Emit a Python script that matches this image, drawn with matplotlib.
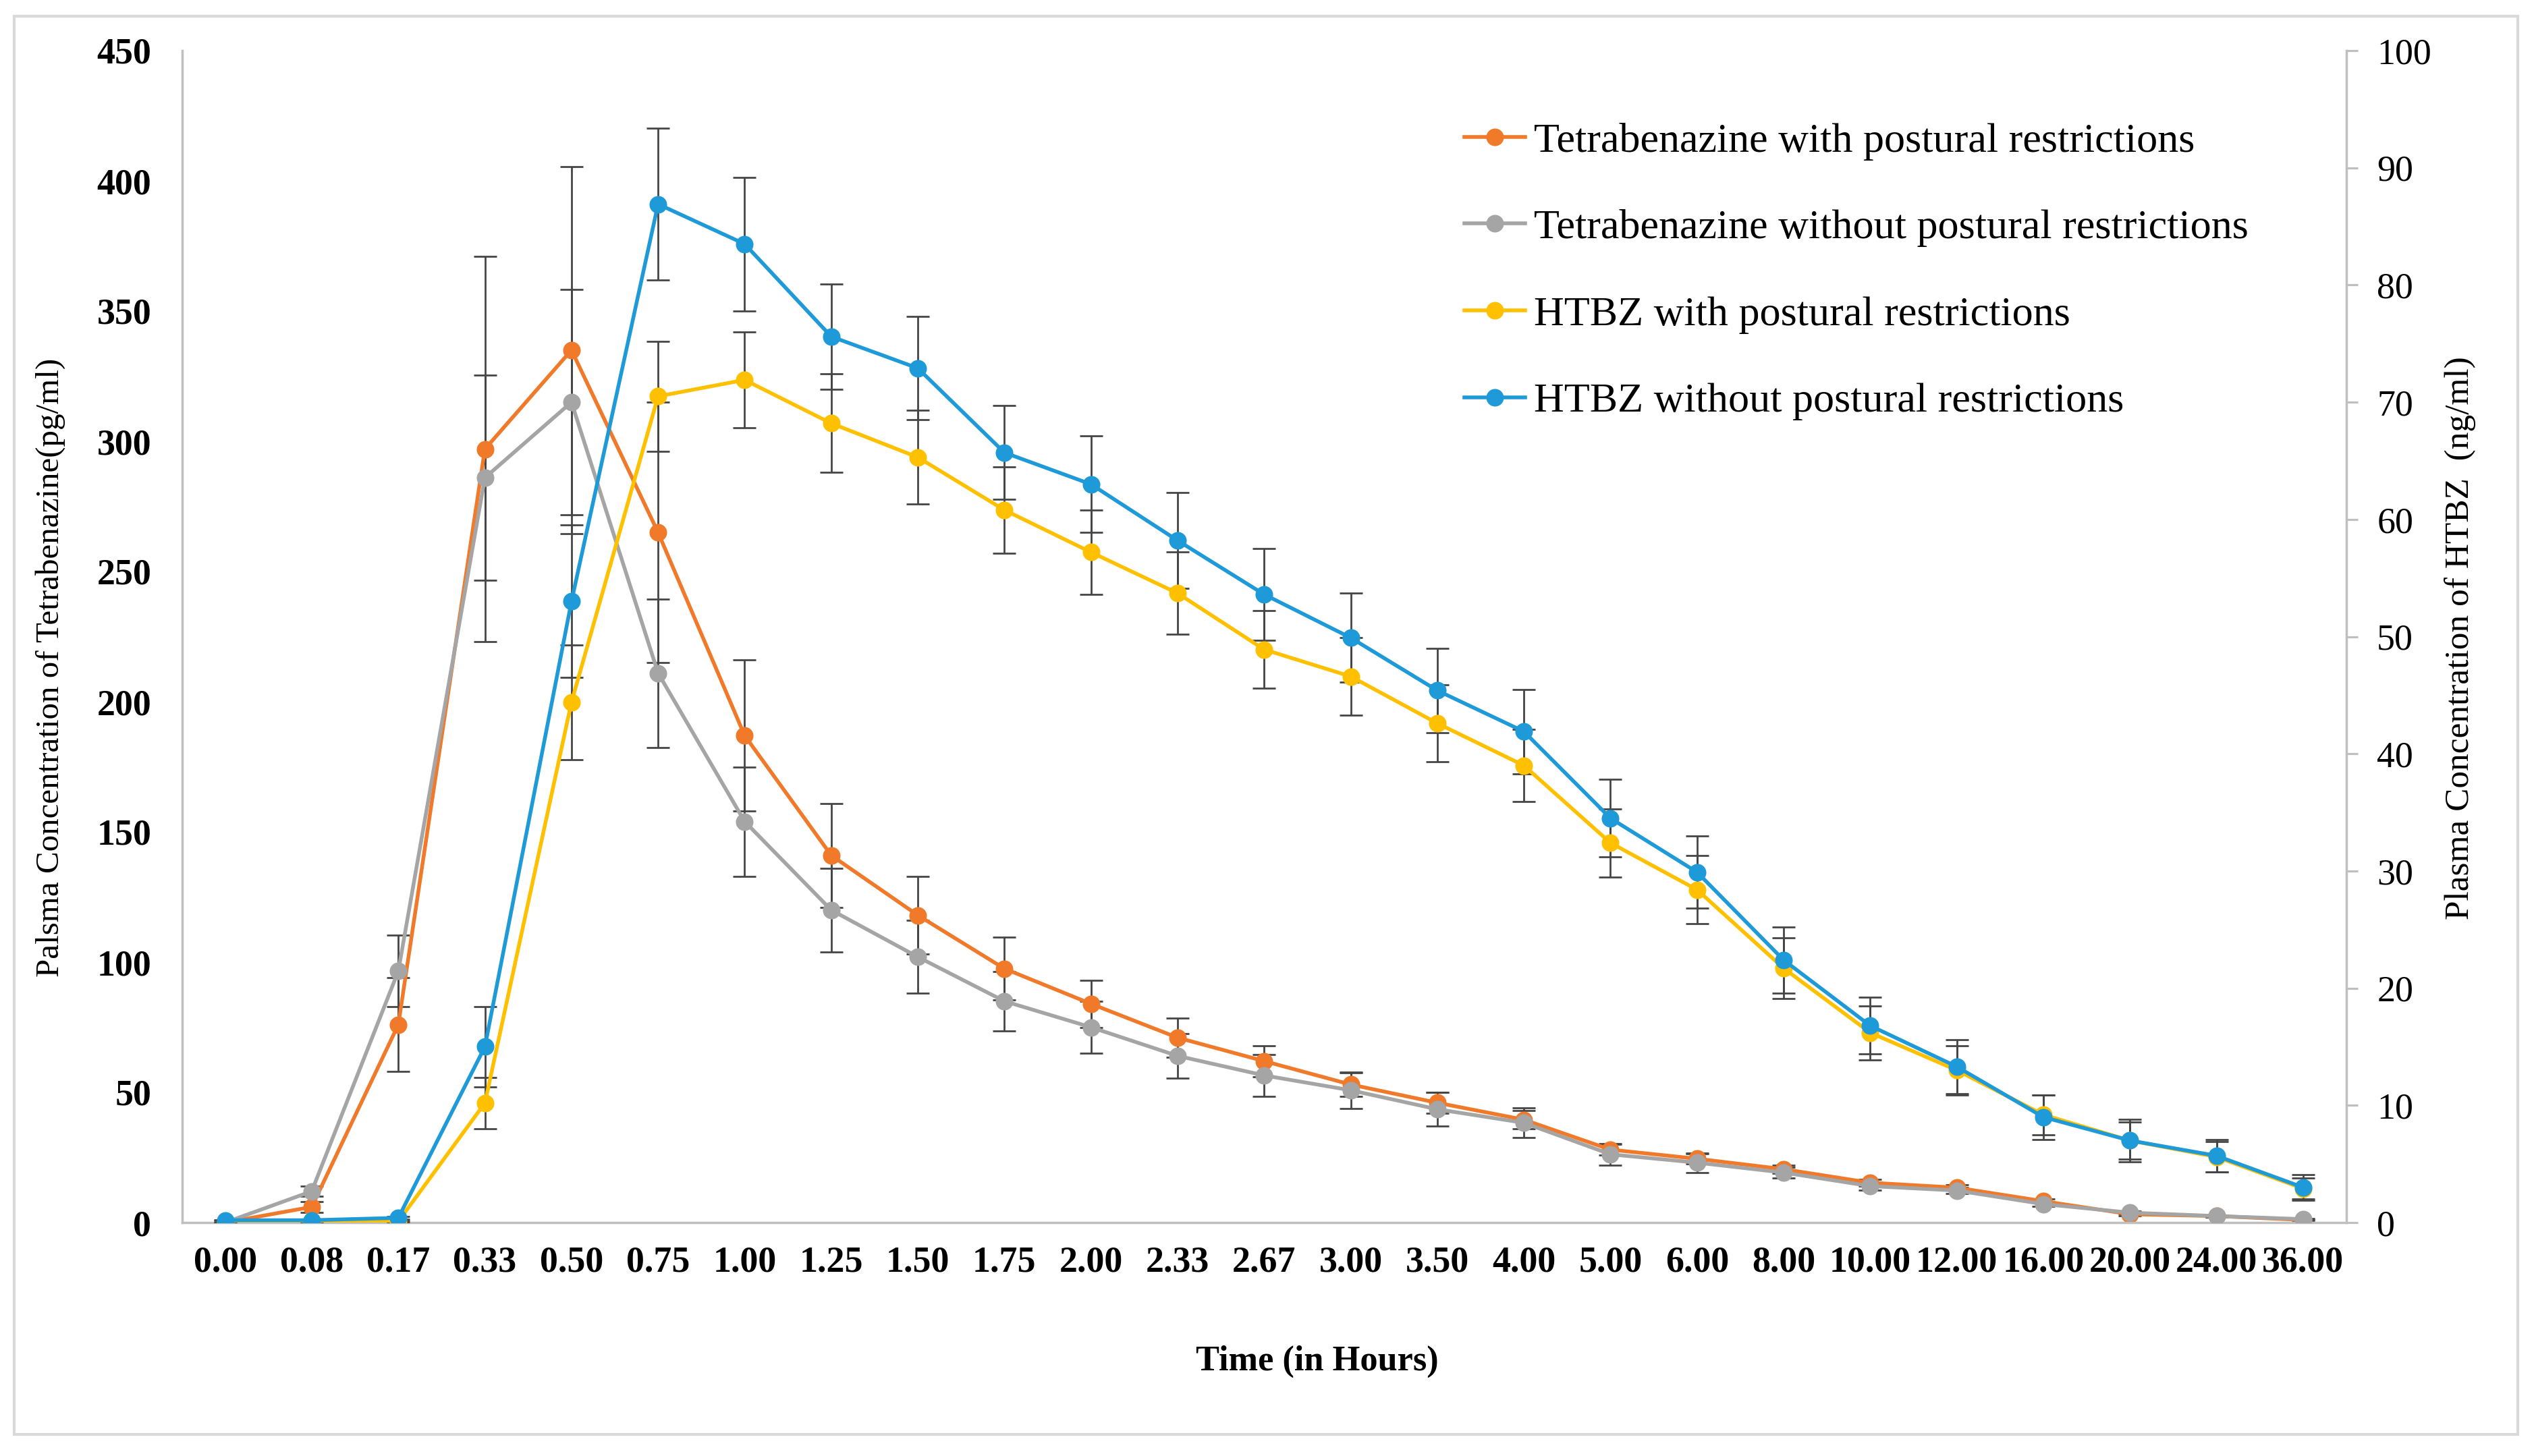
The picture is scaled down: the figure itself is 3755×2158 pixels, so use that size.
import matplotlib.pyplot as plt
from matplotlib.patches import Rectangle
import numpy as np

plt.rcParams['font.family'] = ['Liberation Serif', 'DejaVu Serif']

times = ['0.00', '0.08', '0.17', '0.33', '0.50', '0.75', '1.00', '1.25', '1.50', '1.75',
         '2.00', '2.33', '2.67', '3.00', '3.50', '4.00', '5.00', '6.00', '8.00', '10.00',
         '12.00', '16.00', '20.00', '24.00', '36.00']

# tetrabenazine, pg/ml (left axis)
tbz_with = [0, 6, 76, 297, 335, 265, 187, 141, 118, 97.5, 84, 71, 62, 53, 46, 39.5,
            28, 24.5, 20.5, 15.3, 13.4, 8.2, 3.2, 2.5, 1.0]
tbz_with_sd = [0, 2, 18, 74, 70.5, 50, 29, 20, 15, 12, 9, 7.5, 6, 4.5, 4, 3.6,
               2, 2, 1.5, 1.2, 1, 0.8, 0.5, 0.4, 0.2]
tbz_without = [0, 12, 96.6, 286, 315, 211, 154, 120, 102, 85, 75, 64, 56.5, 50.8, 43.5, 38.3,
               26.2, 23, 19.2, 14, 12.3, 7.1, 3.8, 2.5, 1.3]
tbz_without_sd = [0, 2, 13.8, 39.3, 43.2, 28.5, 21, 16, 14, 11.4, 10, 8.6, 8, 7, 6.5, 5.7,
                  4.2, 3.8, 2, 1.5, 1.2, 1, 0.5, 0.4, 0.3]

# HTBZ, ng/ml (right axis)
htbz_with = [0, 0.05, 0.1, 10.2, 44.4, 70.5, 71.9, 68.2, 65.3, 60.8, 57.2, 53.7, 48.9, 46.6,
             42.6, 39.0, 32.4, 28.4, 21.7, 16.2, 13.0, 9.2, 7.0, 5.6, 2.9]
htbz_with_sd = [0, 0, 0.05, 2.2, 4.9, 4.7, 4.1, 4.2, 4.0, 3.7, 3.6, 3.5, 3.3, 3.3,
                3.3, 3.1, 2.9, 2.9, 2.6, 2.3, 2.1, 1.7, 1.6, 1.3, 0.9]
htbz_without = [0.2, 0.2, 0.4, 15.0, 53.0, 86.9, 83.5, 75.6, 72.9, 65.7, 63.0, 58.2, 53.6, 49.9,
                45.4, 41.9, 34.5, 29.9, 22.4, 16.8, 13.3, 9.0, 7.0, 5.7, 3.0]
htbz_without_sd = [0.05, 0.05, 0.1, 3.4, 6.5, 6.5, 5.7, 4.5, 4.4, 4.0, 4.1, 4.1, 3.9, 3.8,
                   3.6, 3.6, 3.3, 3.1, 2.8, 2.4, 2.3, 1.9, 1.8, 1.4, 1.1]

labels = ['Tetrabenazine with postural restrictions',
          'Tetrabenazine without postural restrictions',
          'HTBZ with postural restrictions',
          'HTBZ without postural restrictions']
colors = ['#F07A2A', '#A5A5A5', '#FFC000', '#1E9AD8']

W, H = 3755, 2158
fig = plt.figure(figsize=(W / 250, H / 250), dpi=250)
fig.patches.append(Rectangle((21 / W, 1 - 2126 / H), 3710 / W, 2102 / H,
                             transform=fig.transFigure, fill=False,
                             edgecolor='#D9D9D9', lw=1.2))

ax = fig.add_axes([269.5 / W, 1 - 1812 / H, (3477 - 269.5) / W, (1812 - 75) / H])
ax2 = ax.twinx()

x = np.arange(len(times))
err_kw = dict(fmt='none', ecolor='#454545', elinewidth=0.8, capsize=5, capthick=0.8)
line_kw = dict(marker='o', markersize=6.5, lw=1.6)

ax.errorbar(x, tbz_with, yerr=tbz_with_sd, zorder=1, **err_kw)
ax.errorbar(x, tbz_without, yerr=tbz_without_sd, zorder=1, **err_kw)
l1, = ax.plot(x, tbz_with, color=colors[0], label=labels[0], zorder=2, **line_kw)
l2, = ax.plot(x, tbz_without, color=colors[1], label=labels[1], zorder=3, **line_kw)

ax2.errorbar(x, htbz_with, yerr=htbz_with_sd, zorder=1, **err_kw)
ax2.errorbar(x, htbz_without, yerr=htbz_without_sd, zorder=1, **err_kw)
l3, = ax2.plot(x, htbz_with, color=colors[2], label=labels[2], zorder=2, **line_kw)
l4, = ax2.plot(x, htbz_without, color=colors[3], label=labels[3], zorder=3, **line_kw)

ax.set_xlim(-0.5, len(times) - 0.5)
ax.set_ylim(0, 450)
ax2.set_ylim(0, 100)
ax.set_xticks(x)
ax.set_xticklabels(times, fontsize=15.5, fontweight='bold')
ax.set_yticks(np.arange(0, 451, 50))
ax.set_yticklabels([str(v) for v in range(0, 451, 50)], fontsize=15.5, fontweight='bold')
ax.tick_params(axis='both', length=0)
ax.tick_params(axis='y', pad=13)
ax.tick_params(axis='x', pad=10)
ax2.set_yticks(np.arange(0, 101, 10))
ax2.tick_params(axis='y', length=5, width=0.9, color='#BFBFBF', pad=8, labelsize=15.5)

for s in ['top', 'right']:
    ax.spines[s].set_visible(False)
for s in ['top', 'left', 'bottom']:
    ax2.spines[s].set_visible(False)
for sp in [ax.spines['left'], ax.spines['bottom'], ax2.spines['right']]:
    sp.set_color('#BFBFBF')
    sp.set_linewidth(1.0)

fig.text(75 / W, 1 - 989 / H, 'Palsma Concentration of Tetrabenazine(pg/ml)',
         rotation=90, ha='center', va='center', fontsize=14.1)
fig.text(3646 / W, 1 - 946 / H, 'Plasma Concentration of HTBZ  (ng/ml)',
         rotation=90, ha='center', va='center', fontsize=14.8)
fig.text(1952 / W, 1 - 2018 / H, 'Time (in Hours)', ha='center', va='center',
         fontsize=15.1, fontweight='bold')

fig.legend(handles=[l1, l2, l3, l4], loc='upper left',
           bbox_to_anchor=(2170 / W, 1 - 181 / H), frameon=False, fontsize=17.9,
           handlelength=1.45, handletextpad=0.2, labelspacing=1.16,
           borderpad=0, borderaxespad=0)

fig.savefig('out.png', dpi=250)
